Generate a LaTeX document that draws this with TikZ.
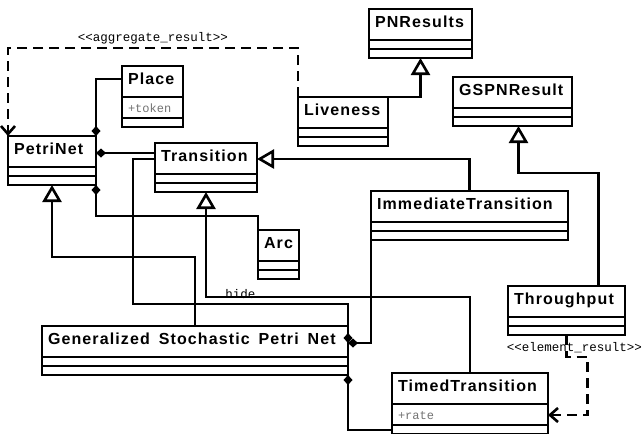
\documentclass[tikz,border=0pt]{standalone}
\usepackage{fontspec}
\setmonofont{Liberation Mono}
\newfontfamily\classfont{Liberation Sans}[LetterSpace=7,WordSpace=1.6]
\usetikzlibrary{arrows.meta}
\usetikzlibrary{shapes.multipart}

\newcommand{\titlestrut}{\rule[-11.2pt]{0pt}{28.4pt}}
\newcommand{\emptypart}{\rule{0pt}{6.4pt}\kern0.1pt}
\newcommand{\attrtext}[1]{{\ttfamily\mdseries\fontsize{12}{14}\selectfont\color{black!55}\rule[-4.7pt]{0pt}{18.4pt}#1}}

\begin{document}
\begin{tikzpicture}[x=1pt,y=-1pt,outer sep=0pt,line width=2.6pt,
umlclass/.style={draw,rectangle split,rectangle split parts=3,anchor=north west,
  inner xsep=6pt,inner ysep=0pt,rectangle split part align={left,left,left},
  font=\classfont\bfseries\fontsize{16}{18}\selectfont},
tag/.style={font=\ttfamily\fontsize{12.5}{14}\selectfont,inner sep=1pt},
inherit/.style={-{Triangle[open,length=17pt,width=19pt]}},
comp/.style={{Diamond[length=10pt,width=9pt]}-},
depend/.style={dash pattern=on 10pt off 6pt,-{Straight Barb[length=8pt,width=14pt]}}]

\path[use as bounding box,clip] (0,0) rectangle (643,434);

% classes
\node[umlclass,minimum width=88pt] (PetriNet) at (8,136) {\titlestrut PetriNet\nodepart{two}\emptypart\nodepart{three}\emptypart};
\node[umlclass,minimum width=61pt] (Place) at (122,66) {\titlestrut Place\nodepart{two}\attrtext{+token}\nodepart{three}\emptypart};
\node[umlclass,minimum width=102pt] (Transition) at (155,143) {\titlestrut Transition\nodepart{two}\emptypart\nodepart{three}\emptypart};
\node[umlclass,minimum width=90pt] (Liveness) at (298,97) {\titlestrut Liveness\nodepart{two}\emptypart\nodepart{three}\emptypart};
\node[umlclass,minimum width=103pt] (PNResults) at (369,9) {\titlestrut PNResults\nodepart{two}\emptypart\nodepart{three}\emptypart};
\node[umlclass,minimum width=119pt] (GSPNResult) at (453,77) {\titlestrut GSPNResult\nodepart{two}\emptypart\nodepart{three}\emptypart};
\node[umlclass,minimum width=197pt] (ImmediateTransition) at (371,191) {\titlestrut ImmediateTransition\nodepart{two}\emptypart\nodepart{three}\emptypart};
\node[umlclass,minimum width=41pt] (Arc) at (258,230) {\titlestrut Arc\nodepart{two}\emptypart\nodepart{three}\emptypart};
\node[umlclass,minimum width=117pt] (Throughput) at (508,286) {\titlestrut Throughput\nodepart{two}\emptypart\nodepart{three}\emptypart};
\node[umlclass,minimum width=306pt] (GSPN) at (42,326) {\titlestrut Generalized Stochastic Petri Net\nodepart{two}\emptypart\nodepart{three}\emptypart};
\node[umlclass,minimum width=156pt] (TimedTransition) at (392,373) {\titlestrut TimedTransition\nodepart{two}\attrtext{+rate}\nodepart{three}\emptypart};

% composition
\draw[comp] (PetriNet.north east) |- ([yshift=-13pt]Place.north west);
\draw[comp] ([yshift=-17pt]PetriNet.north east) -- ([yshift=-10pt]Transition.north west);
\draw[comp] (PetriNet.south east) -- ++(0,31) -| (Arc.north west);
\draw[comp] ([yshift=-17pt]GSPN.north east) -- ++(0,-39) -| ([xshift=-22pt,yshift=-16pt]Transition.north west) -- ([yshift=-16pt]Transition.north west);
\draw[comp] ([yshift=-17pt]GSPN.north east) -| (ImmediateTransition.south west);
\draw[comp] (GSPN.south east) |- ([yshift=-57pt]TimedTransition.north west);

% inheritance
\draw[inherit] (Liveness.north east) -| (PNResults.south);
\draw[inherit] (ImmediateTransition.north) |- ([yshift=-16pt]Transition.north east);
\draw[inherit] (TimedTransition.north) -- ++(0,-76) -| node[tag,pos=0.435,anchor=base,yshift=-1.5pt,behind path] {hide} (Transition.south);
\draw[inherit] (GSPN.north) -- ++(0,-69) -| (PetriNet.south);
\draw[inherit] ([xshift=32pt]Throughput.north) -- ++(0,-113) -| ([xshift=6pt]GSPNResult.south);

% results
\draw[depend] (Liveness.north west) -- ++(0,-49) -| node[tag,pos=0.25,above=3pt] {<<aggregate\_result>>} (PetriNet.north west);
\draw[depend] (Throughput.south) node[tag,below=6pt,xshift=8pt] {<<element\_result>>} -- ++(0,22) -- ++(21,0) |- ([yshift=-42pt]TimedTransition.north east);
\end{tikzpicture}
\end{document}
